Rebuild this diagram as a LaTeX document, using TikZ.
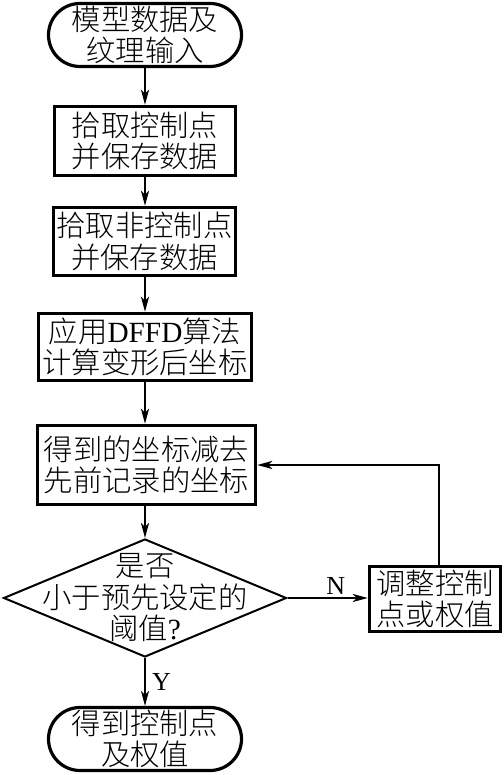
\documentclass[tikz,border=0pt]{standalone}
\usepackage{fontspec}
\setmainfont{Liberation Serif}
\newfontfamily\cjk{Noto Sans CJK SC Light}
\usetikzlibrary{shapes.geometric,arrows.meta,calc}
\begin{document}
\begin{tikzpicture}[x=1pt,y=1pt,
  every node/.style={font=\fontsize{29.3}{31.5}\selectfont, align=center, inner sep=0pt},
  proc/.style={draw, line width=3.4pt, rectangle},
  term/.style={draw, line width=3.2pt, rectangle, rounded corners=31.5pt, minimum width=193pt, minimum height=63pt},
  dec/.style={draw, line width=2pt, diamond, minimum width=283pt, minimum height=118pt},
  arr/.style={line width=2pt, -{Stealth[length=15pt,width=8pt,inset=4pt]}},
  lab/.style={font=\fontsize{26}{28}\selectfont}
]
\useasboundingbox (0,0) rectangle (503,775);
\node[term] (t1) at (145,740) {\cjk 模型数据及\\\cjk 纹理输入};
\node[proc, minimum width=181pt, minimum height=69pt] (b1) at (145,634) {\cjk 拾取控制点\\\cjk 并保存数据};
\node[proc, minimum width=182pt, minimum height=68pt] (b2) at (144.5,533.5) {\cjk 拾取非控制点\\\cjk 并保存数据};
\node[proc, minimum width=213pt, minimum height=67pt] (b3) at (145,428) {{\cjk 应用}DFFD{\cjk 算法}\\\cjk 计算变形后坐标};
\node[proc, minimum width=218pt, minimum height=79pt] (b4) at (146.5,310) {\cjk 得到的坐标减去\\\cjk 先前记录的坐标};
\node[dec] (d) at (145,177) {};
\node (dt) at (d.center) {\cjk 是否\\\cjk 小于预先设定的\\{\cjk 阈值}?};
\node[proc, minimum width=131pt, minimum height=65pt] (adj) at (435,176) {\cjk 调整控制\\\cjk 点或权值};
\node[term] (t2) at (145,36) {\cjk 得到控制点\\\cjk 及权值};
\draw[arr] (t1.south) -- (t1.south |- b1.north);
\draw[arr] (b1.south) -- (b1.south |- b2.north);
\draw[arr] (b1.south |- b2.south) -- (b3.north);
\draw[arr] (b3.south) -- (b3.south |- b4.north);
\draw[arr] (b3.south |- b4.south) -- (d.north);
\draw[arr] (d.east) -- (d.east -| adj.west) node[lab, pos=0.6, above=2pt] {N};
\draw[arr] (d.south) -- (t2.north) node[lab, midway, right=6pt] {Y};
\draw[arr] ($(adj.north)+(4,0)$) |- (b4.east);
\end{tikzpicture}
\end{document}
